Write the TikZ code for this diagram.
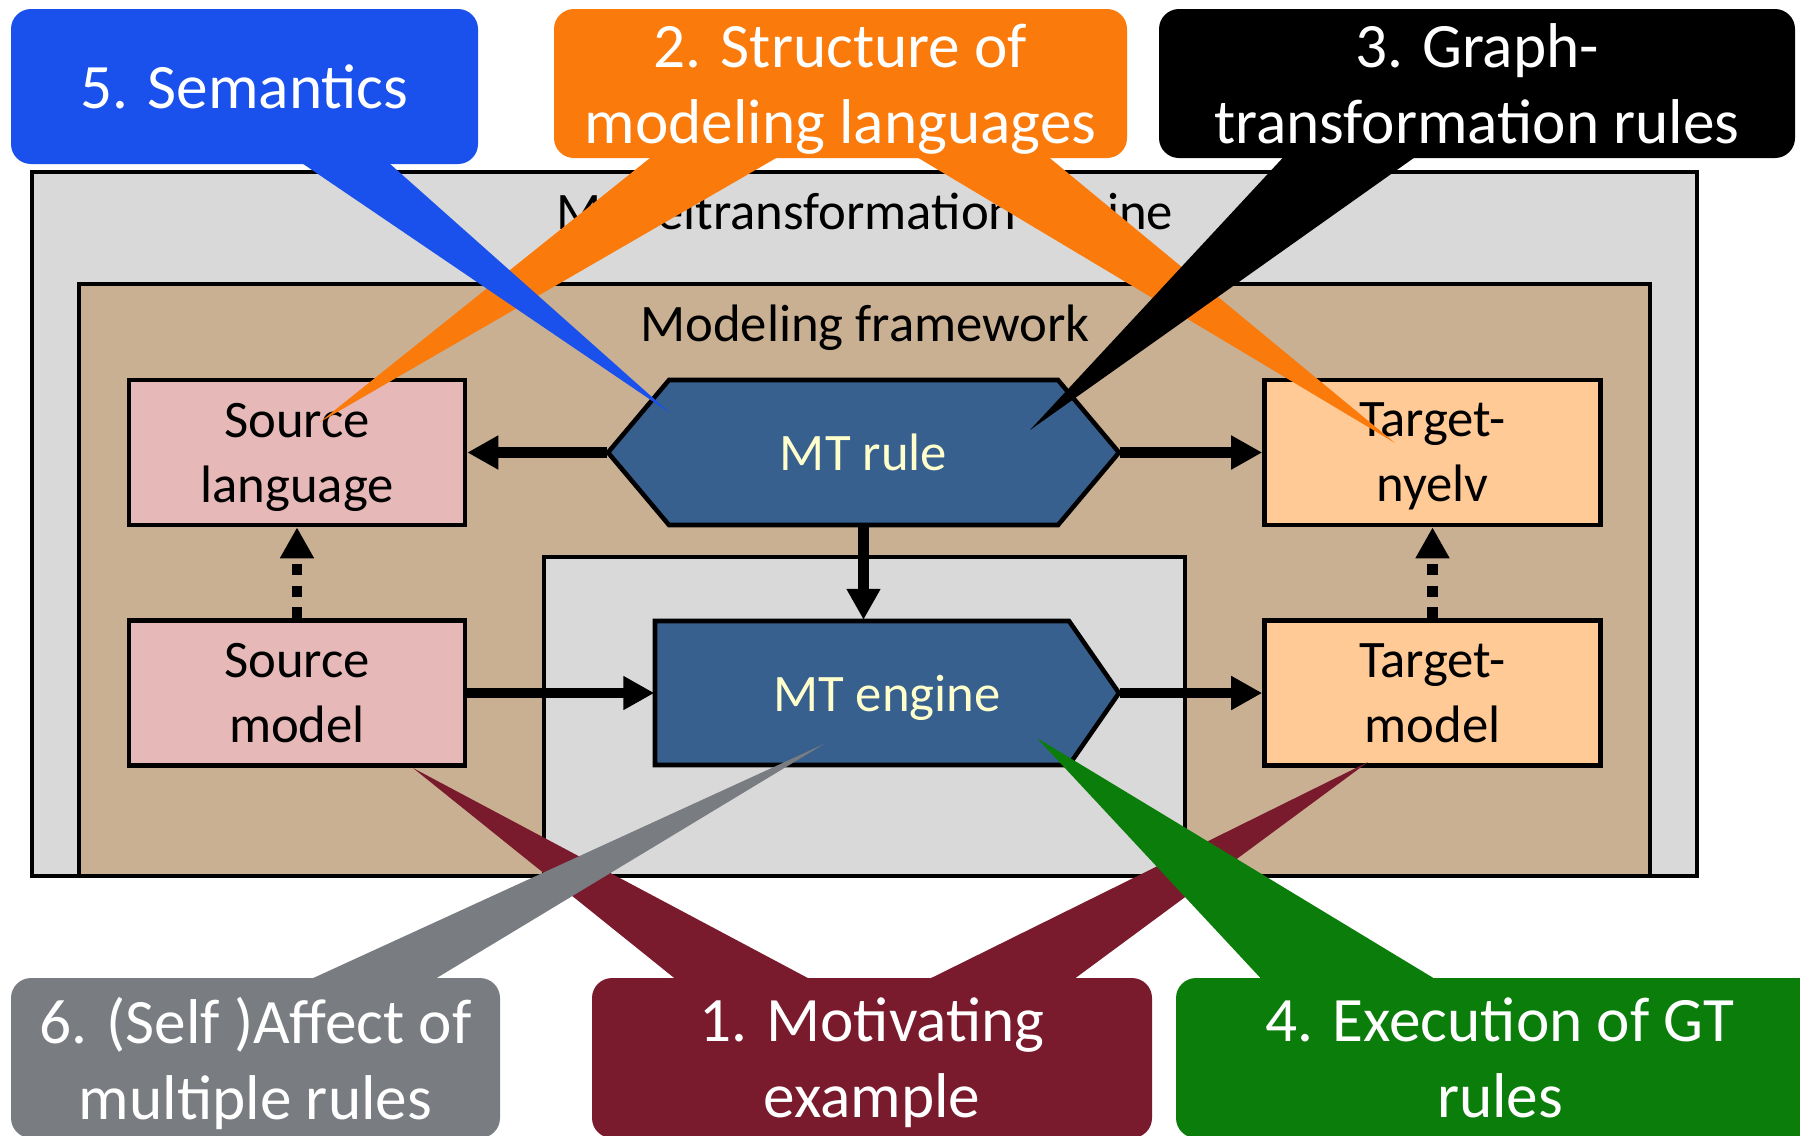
\documentclass[tikz,border=0pt]{standalone}
\usepackage{fontspec}
\setmainfont{Carlito}
\usetikzlibrary{arrows.meta}
\definecolor{mtegray}{HTML}{D9D9D9}
\definecolor{frametan}{HTML}{C9B093}
\definecolor{srcpink}{HTML}{E6B9B8}
\definecolor{tgtpeach}{HTML}{FFCA96}
\definecolor{mtblue}{HTML}{37608F}
\definecolor{mtyellow}{HTML}{FFFFCC}
\definecolor{semblue}{HTML}{1A50EC}
\definecolor{strorange}{HTML}{FA7A0C}
\definecolor{motred}{HTML}{7A1A2D}
\definecolor{affgray}{HTML}{797C81}
\definecolor{exgreen}{HTML}{0B7D0B}
\tikzset{frame/.style={draw=black, line width=1.3pt},
framelabel/.style={font=\fontsize{15}{18.5}\selectfont},
srcbox/.style={draw=black, line width=1.3pt, fill=srcpink, minimum width=33.6mm, minimum height=14.5mm, align=center, text depth=0pt, font=\fontsize{15}{18.5}\selectfont},
tgtbox/.style={srcbox, fill=tgtpeach},
mtshape/.style={draw=black, line width=1.3pt, fill=mtblue},
mtlabel/.style={text=mtyellow, minimum height=14.5mm, inner sep=0pt, font=\fontsize{15}{18.5}\selectfont},
flow/.style={line width=3pt, -{Triangle[length=3.1mm,width=3.2mm]}},
conform/.style={flow, dash pattern=on 1.1mm off 1.05mm},
bubble/.style={rounded corners=2mm, text=white, align=center, inner sep=0pt, text depth=0pt, font=\fontsize{18}{21.6}\selectfont}}

\begin{document}
\begin{tikzpicture}[x=0.1mm, y=-0.1mm]
\useasboundingbox (0,0) rectangle (1800,1135);
\clip (0,0) rectangle (1800,1135);
% frames
\draw[frame, fill=mtegray] (32,172) rectangle (1697,876);
\node[framelabel] (mtelabel) at (865,216) {Modeltransformation engine};
\draw[frame, fill=frametan] (79,284) rectangle (1650,876);
\node[framelabel] (mflabel) at (865,328) {Modeling framework};
\draw[frame, fill=mtegray] (544,557) rectangle (1185,876);
% languages and models
\node[srcbox] (srclang) at (297,452.5) {Source\\language};
\node[srcbox] (srcmodel) at (297,693) {Source\\model};
\node[tgtbox] (tgtlang) at (1432.5,452.5) {Target-\\nyelv};
\node[tgtbox] (tgtmodel) at (1432.5,693) {Target-\\model};
% MT rule and engine
\draw[mtshape] (608,452.5) -- (669,380) -- (1058,380) -- (1119,452.5) -- (1058,525) -- (669,525) -- cycle;
\node[mtlabel, minimum width=51.1mm] (rule) at (863.5,452.5) {MT rule};
\draw[mtshape] (655,621) -- (1069,621) -- (1119,693) -- (1069,765) -- (655,765) -- cycle;
\node[mtlabel, minimum width=46.4mm, text depth=0pt] (engine) at (887,693) {MT engine};
% connectors
\draw[flow] (rule.west) -- (srclang.east);
\draw[flow] (rule.east) -- (tgtlang.west);
\draw[flow] (rule.south) -- (rule.south |- engine.north);
\draw[flow] (srcmodel.east) -- (engine.west);
\draw[flow] (engine.east) -- (tgtmodel.west);
\draw[conform] (srcmodel.north) -- (srclang.south);
\draw[conform] (tgtmodel.north) -- (tgtlang.south);
% callouts
\coordinate (strtipa) at (320,422);
\coordinate (strtipb) at (1395,443);
\fill[strorange] (660,150) -- (strtipa) -- (790,150) -- cycle;
\fill[strorange] (905,150) -- (strtipb) -- (1040,150) -- cycle;
\node[bubble, fill=strorange, minimum width=57.3mm, minimum height=14.9mm] (structure) at (840.5,83.5) {2. Structure of\\modeling languages};
\coordinate (mottipa) at (413,768);
\coordinate (mottipb) at (1368,762);
\fill[motred] (683,985) -- (mottipa) -- (821,985) -- cycle;
\fill[motred] (917,985) -- (mottipb) -- (1066,985) -- cycle;
\node[bubble, fill=motred, minimum width=56mm, minimum height=16mm] (motivating) at (872,1058) {1. Motivating\\example};
\coordinate (semtip) at (670,413);
\fill[semblue] (290,155) -- (semtip) -- (380,155) -- cycle;
\node[bubble, fill=semblue, minimum width=46.7mm, minimum height=15.5mm] (semantics) at (244.5,86.5) {5. Semantics};
\coordinate (gttip) at (1030,430);
\fill[black] (1290,150) -- (gttip) -- (1425,150) -- cycle;
\node[bubble, fill=black, minimum width=63.6mm, minimum height=14.9mm] (gtrules) at (1477,83.5) {3. Graph-\\transformation rules};
\coordinate (afftip) at (824,744);
\fill[affgray] (298,985) -- (afftip) -- (425,985) -- cycle;
\node[bubble, fill=affgray, minimum width=48.9mm, minimum height=16mm] (affect) at (255.5,1058) {6. (Self )Affect of\\multiple rules};
\coordinate (exetip) at (1037,738);
\fill[exgreen] (1267,985) -- (exetip) -- (1445,985) -- cycle;
\node[bubble, fill=exgreen, minimum width=64.8mm, minimum height=16mm] (execution) at (1500,1058) {4. Execution of GT\\rules};
\end{tikzpicture}
\end{document}
